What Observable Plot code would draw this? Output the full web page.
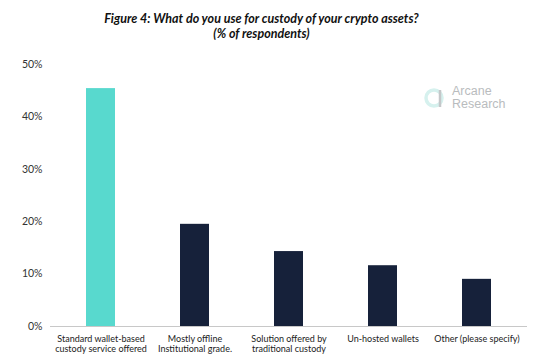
<!DOCTYPE html>
<html>
<head>
<meta charset="utf-8">
<script src="https://cdn.jsdelivr.net/npm/d3@7"></script>
<script src="https://cdn.jsdelivr.net/npm/@observablehq/plot@0.6"></script>
<style>
  html, body { margin: 0; padding: 0; background: #fff; }
  #wrap { position: relative; width: 553px; height: 356px; overflow: hidden; }
  #title { height: 44px; box-sizing: border-box; padding-top: 11px; padding-right: 30px; text-align: center;
    font-family: "Lato", sans-serif; font-style: italic; font-weight: bold;
    font-size: 12.5px; line-height: 15px; color: #111; }
  #logo { position: absolute; left: 424px; top: 85px; display: flex; align-items: center;
    font-family: "Liberation Sans", "Noto Sans", sans-serif; color: #b9bcbe; font-size: 12.5px; }
  #logo svg { margin-right: 6px; }
  #logo .ln { line-height: 13px; height: 13px; white-space: nowrap; }
</style>
</head>
<body>
<div id="wrap">
  <div id="title">Figure 4: What do you use for custody of your crypto assets?<br>(% of respondents)</div>
  <div id="chart"></div>
  <div id="logo">
    <svg width="22" height="24" viewBox="0 0 22 24">
      <circle cx="10" cy="12" r="8" fill="none" stroke="#d6f1ee" stroke-width="3.5"/>
      <path d="M16 4 L16 21" stroke="#c4c7c9" stroke-width="2.5"/>
    </svg>
    <div><div class="ln">Arcane</div><div class="ln">Research</div></div>
  </div>
</div>
<script>
const categories = [
  "Standard wallet-based\ncustody service offered",
  "Mostly offline\nInstitutional grade.",
  "Solution offered by\ntraditional custody",
  "Un-hosted wallets",
  "Other (please specify)"
];
const values = [45.4, 19.5, 14.3, 11.6, 9.0];
const barColors = ["#58d9ce", "#16213a", "#16213a", "#16213a", "#16213a"];
const yTicks = [0, 10, 20, 30, 40, 50];

const data = categories.map((c, i) => ({category: c, value: values[i], color: barColors[i]}));

const chart = Plot.plot({
  width: 553,
  height: 312,
  marginTop: 20,
  marginBottom: 30,
  marginLeft: 50,
  marginRight: 26,
  style: {fontFamily: "Lato, sans-serif", background: "#fff"},
  x: {domain: categories, paddingInner: 0.69, paddingOuter: 0.365, axis: null},
  y: {domain: [0, 50], axis: null},
  marks: [
    Plot.barY(data, {x: "category", y: "value", fill: "color"}),
    Plot.ruleY([0], {stroke: "#c8c8c8", strokeWidth: 1}),
    Plot.axisY({ticks: yTicks, tickSize: 0, tickPadding: 8, tickFormat: d => d + "%", fontSize: 10.5, color: "#333", label: null}),
    Plot.axisX({tickSize: 0, tickPadding: 8, fontSize: 9, color: "#222", label: null, lineHeight: 1.15})
  ]
});
document.getElementById("chart").appendChild(chart);
</script>
</body>
</html>
